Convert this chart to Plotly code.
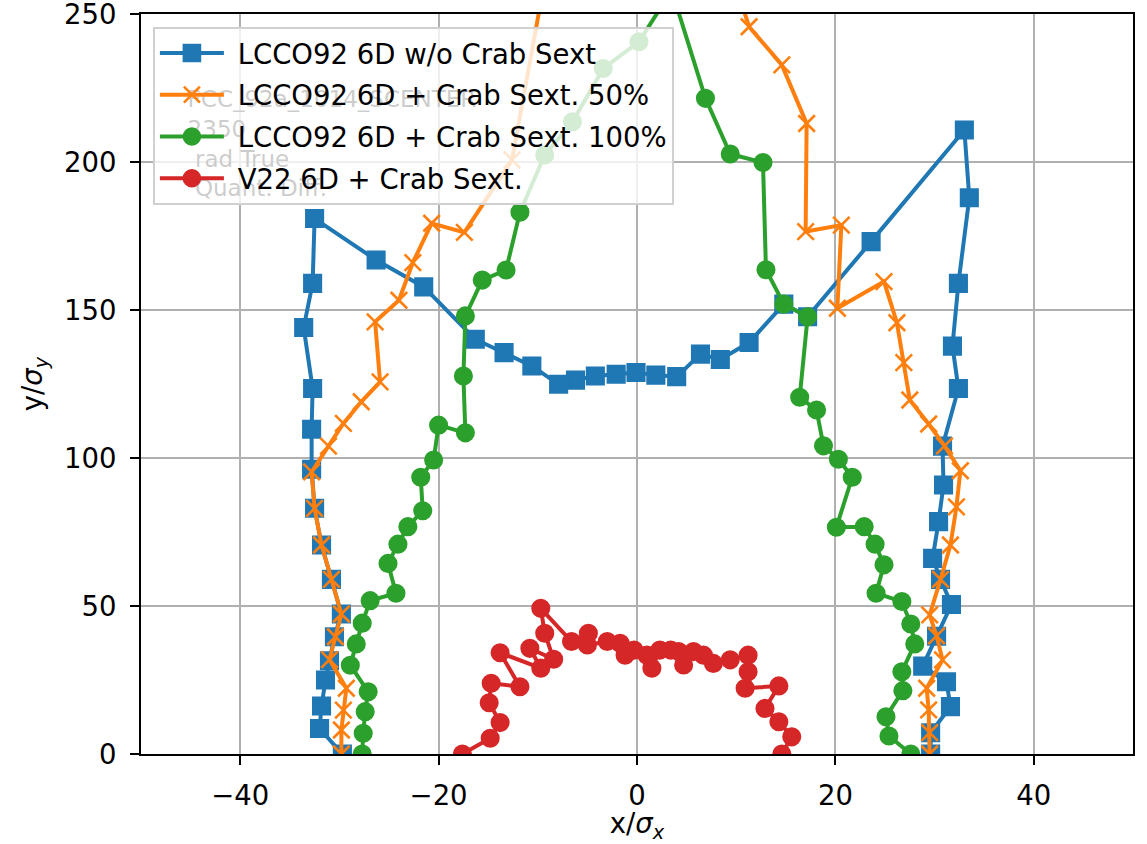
import plotly.graph_objects as go

# Dynamic aperture boundaries in units of beam sigma (x/σx, y/σy)
no_crab_x = [29.6, 29.6, 31.6, 31.2, 28.8, 30.2, 31.7, 30.6, 29.8, 30.4, 30.9, 30.8, 32.4, 31.8,
             32.4, 33.5, 33.0, 23.6, 17.2, 14.8, 11.3, 8.4, 6.4, 4.0, 1.9, -0.1, -2.1, -4.2,
             -6.2, -7.9, -10.6, -13.4, -16.3, -21.5, -26.3, -32.5, -32.7, -33.6, -32.7, -32.8,
             -32.8, -32.5, -31.8, -30.8, -29.8, -30.5, -31.0, -31.4, -31.8, -32.0, -29.7]
no_crab_y = [0.0, 7.2, 16.0, 24.4, 29.7, 39.8, 50.5, 59.0, 66.1, 78.5, 90.9, 104.0, 123.5, 137.8,
             159.0, 187.9, 210.8, 173.1, 147.7, 152.0, 139.0, 133.3, 135.1, 127.5, 128.0, 128.9,
             128.3, 127.7, 126.3, 124.9, 131.1, 135.6, 140.1, 157.8, 166.9, 180.9, 159.0, 144.1,
             123.5, 109.7, 96.2, 83.0, 70.6, 59.0, 47.3, 39.6, 31.5, 25.0, 16.2, 8.6, 0.0]

crab50_x = [29.5, 29.5, 29.4, 29.2, 30.8, 30.2, 29.5, 30.6, 31.6, 32.2, 32.6, 31.0, 29.4, 27.5,
            26.9, 26.2, 24.9, 20.2, 20.6, 17.0, 17.1, 14.6, 11.3, 10.2, -8.5, -12.6, -17.4,
            -20.7, -22.6, -24.0, -26.4, -25.9, -27.8, -29.6, -31.1, -32.8, -32.5, -31.8, -30.8,
            -29.8, -30.4, -31.0, -29.3, -29.6, -29.8, -29.8]
crab50_y = [0.0, 7.2, 14.9, 22.2, 31.8, 39.9, 47.0, 59.0, 70.6, 83.5, 95.7, 104.1, 111.5, 119.6,
            132.2, 145.7, 159.6, 150.6, 178.7, 176.5, 213.0, 232.8, 245.7, 257.0, 276.0, 200.7,
            176.2, 179.3, 166.0, 153.3, 146.0, 125.7, 119.0, 111.7, 104.0, 95.3, 83.0, 70.6,
            59.0, 47.3, 39.6, 31.9, 22.2, 14.8, 8.1, 0.0]

crab100_x = [27.6, 25.4, 25.1, 26.8, 26.7, 28.0, 27.6, 26.7, 24.1, 24.9, 24.0, 22.9, 20.1, 21.7,
             20.3, 18.8, 18.1, 16.4, 17.2, 14.8, 13.0, 12.7, 9.4, 6.9, 3.5, 0.2, -3.4, -6.5,
             -9.3, -11.8, -13.2, -15.6, -17.3, -17.5, -17.3, -20.0, -20.5, -21.8, -21.6, -23.1,
             -24.1, -25.1, -24.3, -26.9, -27.7, -28.3, -28.9, -27.1, -27.4, -27.6, -27.7]
crab100_y = [0.0, 6.1, 12.6, 21.4, 27.8, 37.2, 43.9, 51.5, 54.3, 63.9, 70.9, 76.8, 76.6, 93.5,
             99.6, 104.1, 116.2, 120.5, 147.7, 152.0, 163.6, 199.8, 202.7, 221.5, 258.0, 240.6,
             231.6, 213.6, 202.4, 183.0, 163.5, 160.1, 148.0, 127.7, 108.5, 111.1, 99.3, 93.5,
             82.2, 76.8, 70.9, 64.4, 54.3, 51.8, 44.2, 37.2, 30.0, 21.0, 14.3, 7.0, 0.0]

v22_x = [14.6, 15.6, 14.3, 12.9, 14.3, 10.9, 11.2, 11.2, 9.4, 7.7, 6.7, 5.7, 4.7, 4.2, 3.4, 2.3,
         1.5, 1.0, -0.3, -1.2, -1.7, -3.0, -5.0, -4.9, -6.6, -9.7, -9.3, -8.4, -10.8, -9.7,
         -13.8, -11.8, -14.7, -14.9, -13.8, -14.8, -17.6]
v22_y = [0.0, 5.8, 10.9, 15.4, 23.0, 22.2, 27.8, 33.4, 31.8, 30.6, 33.4, 34.6, 30.1, 34.6, 35.1,
         35.1, 29.0, 33.4, 35.1, 33.4, 37.4, 38.0, 36.8, 40.8, 38.0, 49.2, 40.8, 32.0, 35.7,
         29.0, 34.2, 22.7, 23.9, 17.3, 10.6, 5.3, 0.0]

series_names = ["LCCO92 6D w/o Crab Sext",
                "LCCO92 6D + Crab Sext. 50%",
                "LCCO92 6D + Crab Sext. 100%",
                "V22 6D + Crab Sext."]

x_ticks = [-40, -20, 0, 20, 40]
y_ticks = [0, 50, 100, 150, 200, 250]

info_lines = ["FCC_92a_1014_SCENTER", "2350", "&nbsp;rad True", "&nbsp;Quant. Diff."]

FONT = "DejaVu Sans"
FS = 27.5
BLUE, ORANGE, GREEN, RED = "#1f77b4", "#ff7f0e", "#2ca02c", "#d62728"

styles = [
    (no_crab_x, no_crab_y, BLUE, "square"),
    (crab50_x, crab50_y, ORANGE, "x-thin"),
    (crab100_x, crab100_y, GREEN, "circle"),
    (v22_x, v22_y, RED, "circle"),
]

fig = go.Figure()
for i, (name, (xs, ys, color, symbol)) in enumerate(zip(series_names, styles)):
    fig.add_trace(go.Scatter(
        x=xs, y=ys, mode="lines+markers", name="&nbsp;" + name, legendgroup=f"g{i}",
        line=dict(color=color, width=4),
        marker=dict(symbol=symbol, size=16.5, color=color,
                    line=dict(color=color, width=2.6)),
        cliponaxis=True,
    ))

# Run info text, placed in paper-like coordinates on a hidden overlay axis
fig.add_trace(go.Scatter(
    x=[0.047], y=[0.898], xaxis="x2", yaxis="y2", mode="text",
    text=["<br>".join(info_lines)], textposition="bottom right",
    textfont=dict(family=FONT, size=23, color="black"),
    showlegend=False, hoverinfo="skip", cliponaxis=False,
))

axis_common = dict(
    showgrid=True, gridcolor="#b0b0b0", gridwidth=2, zeroline=False,
    showline=True, mirror=True, linecolor="black", linewidth=2,
    ticks="outside", ticklen=9, tickwidth=2, tickcolor="black",
    tickfont=dict(family=FONT, size=FS, color="black"),
    ticklabeloverflow="allow",
)

fig.update_layout(
    width=1147, height=844,
    margin=dict(l=141, r=14, t=14, b=90, autoexpand=False),
    paper_bgcolor="white", plot_bgcolor="white",
    font=dict(family=FONT, size=FS, color="black"),
    showlegend=True,
    legend=dict(
        x=0.012, y=0.983, xanchor="left", yanchor="top",
        bgcolor="rgba(255,255,255,0.8)", bordercolor="#d0d0d0", borderwidth=2,
        font=dict(family=FONT, size=FS, color="black"),
        itemwidth=64, traceorder="grouped", tracegroupgap=3,
    ),
    xaxis=dict(range=[-50, 50], tickvals=x_ticks, ticklabelstandoff=7,
               title=dict(text="x/<i>σ</i><sub><i>x</i></sub>", standoff=6,
                          font=dict(family=FONT, size=FS)),
               **axis_common),
    yaxis=dict(range=[0, 250], tickvals=y_ticks, ticklabelstandoff=8,
               title=dict(text="y/<i>σ</i><sub><i>y</i></sub>", standoff=13,
                          font=dict(family=FONT, size=FS)),
               **axis_common),
    xaxis2=dict(overlaying="x", range=[0, 1], visible=False),
    yaxis2=dict(overlaying="y", range=[0, 1], visible=False),
)

fig.write_html("out.html")
